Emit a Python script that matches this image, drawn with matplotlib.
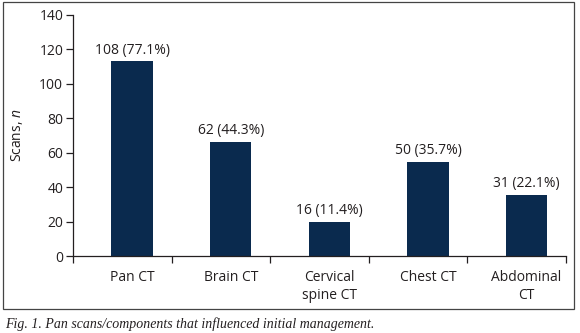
import matplotlib
matplotlib.use('Agg')
import matplotlib.pyplot as plt
from matplotlib.patches import Rectangle

# data
categories = ['Pan CT', 'Brain CT', 'Cervical\nspine CT', 'Chest CT', 'Abdominal\nCT']
bar_heights = [113, 66.5, 20, 54.8, 35.5]
bar_labels = ['108 (77.1%)', '62 (44.3%)', '16 (11.4%)', '50 (35.7%)', '31 (22.1%)']
yticks = [0, 20, 40, 60, 80, 100, 120, 140]

plt.rcParams['font.family'] = ['Open Sans', 'DejaVu Sans']
plt.rcParams['mathtext.fontset'] = 'custom'
plt.rcParams['mathtext.it'] = 'Open Sans:italic'
plt.rcParams['mathtext.rm'] = 'Open Sans'

txt = '#231f20'

fig = plt.figure(figsize=(5.8, 3.33), dpi=100)
ax = fig.add_axes([73/580, 1-256/333, 493/580, 241/333])

xs = list(range(len(categories)))
bars = ax.bar(xs, bar_heights, width=0.42, color='#0a2a4e', zorder=2)
for b, lab in zip(bars, bar_labels):
    ax.text(b.get_x() + b.get_width()/2, b.get_height() + 2.2, lab,
            ha='center', va='bottom', fontsize=10, color=txt)

ax.set_xlim(-0.6, 4.4)
ax.set_ylim(0, 140)
ax.set_yticks(yticks)
ax.set_xticks(xs)
ax.set_xticklabels(categories, fontsize=10, linespacing=1.3, color=txt)
ax.set_xticks([k + 0.4 for k in range(-1, 5)], minor=True)
ax.tick_params(axis='x', which='major', length=0, pad=10)
ax.tick_params(axis='x', which='minor', length=5, width=0.9, direction='out', color=txt)
ax.tick_params(axis='y', length=5, width=0.9, labelsize=10, pad=2, labelcolor=txt, color=txt)

for s in ['top', 'right']:
    ax.spines[s].set_visible(False)
for s in ['left', 'bottom']:
    ax.spines[s].set_linewidth(0.9)
    ax.spines[s].set_color(txt)

ax.set_ylabel('Scans, $\\it{n}$', fontsize=10, color=txt, labelpad=10)

# outer frame and caption
fig.patches.append(Rectangle((3/580, 1-309/333), 571/580, 307/333, transform=fig.transFigure,
                             fill=False, edgecolor='#444444', linewidth=0.9))
fig.text(5/580, 1-324/333, 'Fig. 1. Pan scans/components that influenced initial management.',
         fontsize=10, family='Liberation Serif', style='italic', va='center', color=txt)

fig.savefig('out.png', dpi=100)
